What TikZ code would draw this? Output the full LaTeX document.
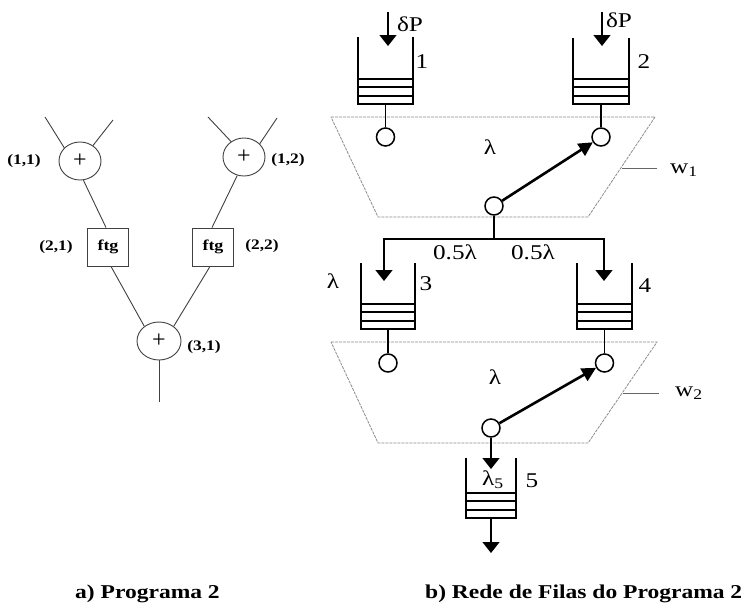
\documentclass[tikz,border=0pt]{standalone}
\usepackage{fontspec}
\setmainfont{Liberation Serif}
\usetikzlibrary{arrows.meta,shapes.geometric}
\newcommand{\sx}[1]{\scalebox{1.2}[1]{#1}}
\newcommand{\fila}[5]{%
  \draw[qline] (#2,#4) -- (#2,#5+25) -- (#3,#5+25) -- (#3,#4);
  \draw[qline] (#2,#5) -- (#3,#5) (#2,#5+8) -- (#3,#5+8) (#2,#5+17) -- (#3,#5+17);
  \coordinate (#1-b) at ({(#2+#3)/2},#5+25);
}
\tikzset{
  gline/.style={draw=black!75, line width=0.9pt},
  opnode/.style={ellipse, gline, minimum width=42pt, minimum height=38pt, inner sep=0pt, font=\fontsize{24}{24}\selectfont},
  fbox/.style={rectangle, gline, minimum width=41pt, minimum height=38pt, inner sep=0pt, font=\bfseries\fontsize{15}{15}\selectfont},
  glabel/.style={font=\bfseries\fontsize{14.5}{14.5}\selectfont, inner sep=0pt},
  qline/.style={line width=1.8pt, black},
  srv/.style={circle, draw, line width=1.5pt, minimum size=18pt, inner sep=0pt},
  flow/.style={line width=1.4pt, black},
  arr/.style={flow, -{Triangle[width=17pt,length=11pt]}},
  tarr/.style={line width=2.6pt, black, -{Triangle[width=14pt,length=14pt]}},
  trap/.style={draw=black!45, line width=0.8pt, dash pattern=on 3pt off 1pt},
  rlabel/.style={font=\fontsize{21}{21}\selectfont, inner sep=0pt},
  captxt/.style={font=\bfseries\fontsize{19.6}{19.6}\selectfont, inner sep=0pt, anchor=base west},
}
\begin{document}
\begin{tikzpicture}[x=1pt,y=-1pt]
\useasboundingbox (0,0) rectangle (746,605);
% ---------- a) program graph ----------
\node[opnode] (n11) at (80,161) {+};
\node[opnode] (n12) at (244,157) {+};
\node[fbox] (b21) at (108,247) {\sx{ftg}};
\node[fbox] (b22) at (213,247) {\sx{ftg}};
\node[opnode, minimum width=44pt] (n31) at (159,341) {+};
\node[glabel] (l11) at (24,161) {\sx{(1,1)}};
\node[glabel] (l12) at (288,160) {\sx{(1,2)}};
\node[glabel] (l21) at (56,247) {\sx{(2,1)}};
\node[glabel] (l22) at (262,246) {\sx{(2,2)}};
\node[glabel] (l31) at (204,347) {\sx{(3,1)}};
\coordinate (i11a) at (45,117);
\coordinate (i11b) at (113,120);
\coordinate (i12a) at (208,117);
\coordinate (i12b) at (277,118);
\coordinate (o31) at (159,402);
\draw[gline] (i11a) -- (n11.140);
\draw[gline] (i11b) -- (n11.50);
\draw[gline] (i12a) -- (n12.130);
\draw[gline] (i12b) -- (n12.40);
\draw[gline] (n11.-80) -- ([xshift=-2pt]b21.north);
\draw[gline] (n12.-110) -- ([xshift=-1pt]b22.north);
\draw[gline] ([xshift=3pt]b21.south) -- (n31.135);
\draw[gline] ([xshift=-3pt]b22.south) -- (n31.45);
\draw[gline] (n31.south) -- (o31);
% ---------- b) queue network ----------
\draw[trap] (331,117) -- (655,117) -- (588,217) -- (378,217) -- cycle;
\draw[trap] (331,342) -- (657,342) -- (588,443) -- (378,443) -- cycle;
\coordinate (w1a) at (622,168); \coordinate (w1b) at (657,168);
\coordinate (w2a) at (623,393); \coordinate (w2b) at (659,393);
\draw[draw=black!60, line width=0.8pt] (w1a) -- (w1b);
\draw[draw=black!60, line width=0.8pt] (w2a) -- (w2b);
\node[rlabel, anchor=west] (w1) at (670,170) {\sx{w\textsubscript{1}}};
\node[rlabel, anchor=west] (w2) at (675,393) {\sx{w\textsubscript{2}}};
% queues
\fila{q1}{358}{413}{37}{79}
\fila{q2}{573}{629}{38}{79}
\fila{q3}{361}{415}{263}{304}
\fila{q4}{577}{632}{263}{304}
\fila{q5}{466}{516}{458}{493}
\node[rlabel] (n1) at (422,62) {\sx{1}};
\node[rlabel] (n2) at (644,62) {\sx{2}};
\node[rlabel] (n3) at (426,284) {\sx{3}};
\node[rlabel] (n4) at (645,286) {\sx{4}};
\node[rlabel] (n5) at (532,481) {\sx{5}};
% servers
\node[srv] (s1) at (385.5,137) {};
\node[srv] (s2) at (601,137) {};
\node[srv] (s3) at (388,363) {};
\node[srv] (s4) at (604.5,363) {};
\node[srv] (m1) at (494,206) {};
\node[srv] (m2) at (491,428) {};
\draw[qline] (q1-b) -- (s1);
\draw[qline] (q2-b) -- (s2);
\draw[qline] (q3-b) -- (s3);
\draw[qline] (q4-b) -- (s4);
% inputs
\coordinate (d1) at (388,12); \coordinate (d1t) at (388,46);
\coordinate (d2) at (602,12); \coordinate (d2t) at (602,46);
\draw[arr] (d1) -- (d1t);
\draw[arr] (d2) -- (d2t);
\node[rlabel] (dp1) at (410,24) {\sx{δP}};
\node[rlabel] (dp2) at (619,20) {\sx{δP}};
% routing
\draw[tarr] (m1) -- (s2);
\draw[tarr] (m2) -- (s4);
\node[rlabel] (lam1) at (490,147) {\sx{λ}};
\node[rlabel] (lam2) at (495,377) {\sx{λ}};
\coordinate (j1) at (494,239);
\coordinate (a3) at (384,281);
\coordinate (a4) at (604,281);
\draw[flow] (m1) -- (j1);
\draw[arr] (j1) -| (a3);
\draw[arr] (j1) -| (a4);
\node[rlabel] (h1) at (455,252) {\sx{0.5λ}};
\node[rlabel] (h2) at (533,252) {\sx{0.5λ}};
\node[rlabel] (lam3) at (333,281) {\sx{λ}};
\coordinate (a5) at (491,469);
\draw[arr] (m2) -- (a5);
\node[rlabel] (lam5) at (493,480) {\sx{λ\textsubscript{5}}};
\coordinate (o5) at (491,553);
\draw[arr] (q5-b) -- (o5);
% captions
\node[captxt] (ca) at (75,598) {\sx{a) Programa 2}};
\node[captxt] (cb) at (425,598) {\sx{b) Rede de Filas do Programa 2}};
\end{tikzpicture}
\end{document}
